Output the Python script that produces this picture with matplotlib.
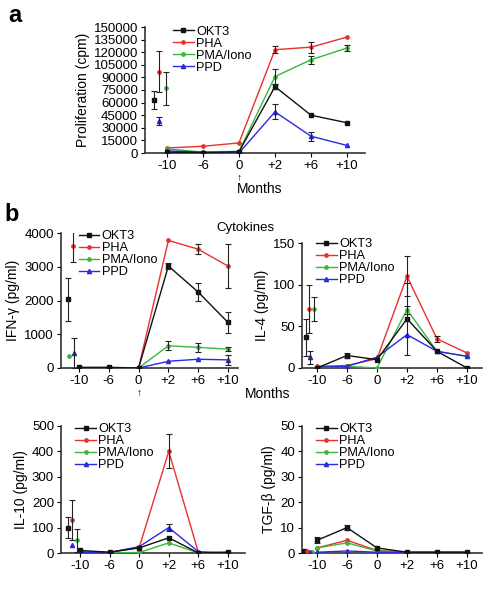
import numpy as np
import matplotlib
matplotlib.use("Agg")
import matplotlib.pyplot as plt

plt.rcParams['font.family'] = ['Liberation Sans', 'DejaVu Sans']

W, H = 493, 595
months = ["-10", "-6", "0", "+2", "+6", "+10"]
series = ["OKT3", "PHA", "PMA/Iono", "PPD"]
colors = ["#111111", "#e8312a", "#3cb53c", "#2a2adf"]
markers = ["s", "o", "o", "^"]
msizes = [3.2, 2.4, 2.4, 3.0]

# ---- Proliferation (cpm) ----
prolif_base = [63000, 97000, 77000, 38000]
prolif_base_err = [10500, 24000, 20000, 4500]
prolif_OKT3 = [1000, 500, 1500, 79000, 45000, 36000]
prolif_PHA = [6000, 8000, 12000, 123000, 126000, 138000]
prolif_PMA = [5000, 1000, 2000, 91000, 111000, 125000]
prolif_PPD = [2500, 1000, 0, 49000, 20000, 9000]
prolif_OKT3_err = [0, 0, 0, 3000, 0, 0]
prolif_PHA_err = [0, 0, 0, 4000, 6500, 0]
prolif_PMA_err = [0, 0, 0, 8500, 5000, 4000]
prolif_PPD_err = [0, 0, 0, 9000, 5500, 0]

# ---- IFN-gamma (pg/ml) ----
ifn_base = [2030, 3620, 350, 450]
ifn_base_err = [650, 480, 0, 450]
ifn_OKT3 = [20, 20, 0, 3020, 2250, 1350]
ifn_PHA = [0, 0, 0, 3780, 3520, 3020]
ifn_PMA = [0, 0, 0, 660, 610, 560]
ifn_PPD = [0, 0, 0, 200, 260, 240]
ifn_OKT3_err = [0, 0, 0, 100, 270, 300]
ifn_PHA_err = [0, 0, 0, 0, 140, 650]
ifn_PMA_err = [0, 0, 0, 140, 130, 50]
ifn_PPD_err = [0, 0, 0, 0, 0, 140]

# ---- IL-4 (pg/ml) ----
il4_base = [37, 71, 71, 13]
il4_base_err = [22, 29, 14, 8]
il4_OKT3 = [0, 15, 10, 59, 20, 0]
il4_PHA = [2, 3, 11, 110, 35, 18]
il4_PMA = [1, 2, 0, 70, 20, 14]
il4_PPD = [1, 2, 13, 40, 20, 14]
il4_OKT3_err = [0, 3, 0, 43, 0, 0]
il4_PHA_err = [0, 0, 0, 24, 4, 0]
il4_PMA_err = [0, 0, 0, 5, 0, 0]
il4_PPD_err = [0, 0, 0, 0, 0, 0]

# ---- IL-10 (pg/ml) ----
il10_base = [100, 130, 50, 30]
il10_base_err = [40, 80, 45, 0]
il10_OKT3 = [10, 3, 20, 60, 0, 3]
il10_PHA = [5, 3, 22, 400, 2, 3]
il10_PMA = [2, 1, 2, 40, 0, 0]
il10_PPD = [1, 2, 25, 100, 5, 0]
il10_OKT3_err = [0, 0, 0, 0, 0, 0]
il10_PHA_err = [0, 0, 0, 67, 0, 0]
il10_PMA_err = [0, 0, 0, 0, 0, 0]
il10_PPD_err = [0, 0, 0, 13, 0, 0]

# ---- TGF-beta (pg/ml) ----
tgf_base = [0.8, 0.8, 0.5, 0.3]
tgf_base_err = [0, 0, 0, 0]
tgf_OKT3 = [5, 10, 2, 0.3, 0.3, 0.3]
tgf_PHA = [2, 5, 1, 0.3, 0.3, 0.3]
tgf_PMA = [2, 4, 0.8, 0.3, 0.3, 0.3]
tgf_PPD = [0.3, 0.8, 0.3, 0.2, 0.2, 0.2]
tgf_OKT3_err = [1.2, 1.0, 0, 0, 0, 0]
tgf_PHA_err = [0, 0, 0, 0, 0, 0]
tgf_PMA_err = [0, 0, 0, 0, 0, 0]
tgf_PPD_err = [0, 0, 0, 0, 0, 0]

fig = plt.figure(figsize=(W / 100, H / 100), dpi=100)

FS = 9.5
LFS = 9.2


def make_axes(left_px, right_px, top_px, bottom_px, first_tick_px, last_tick_px):
    ax = fig.add_axes([left_px / W, 1 - bottom_px / H,
                       (right_px - left_px) / W, (bottom_px - top_px) / H])
    step = (last_tick_px - first_tick_px) / 5.0
    ax.set_xlim((left_px - first_tick_px) / step,
                5 + (right_px - last_tick_px) / step)
    return ax


def draw(ax, base, base_err, offsets, lines, errs, ymax, yticks, ylabel, leg_anchor):
    x = np.arange(len(months))
    for i in range(4):
        c, m, ms = colors[i], markers[i], msizes[i]
        ax.plot(x, lines[i], color=c, lw=1.0, marker=m, ms=ms,
                label=series[i], zorder=3 + (i == 0))
        e = np.array(errs[i], dtype=float)
        mask = e > 0
        if mask.any():
            ax.errorbar(x[mask], np.array(lines[i])[mask], yerr=e[mask],
                        fmt="none", ecolor="#222222", elinewidth=0.8,
                        capsize=2, capthick=0.8, zorder=5)
        ax.plot([offsets[i]], [base[i]], color=c, marker=m, ms=ms,
                ls="none", zorder=4)
        if base_err[i] > 0:
            ax.errorbar([offsets[i]], [base[i]], yerr=[base_err[i]],
                        fmt="none", ecolor="#222222", elinewidth=0.8,
                        capsize=2, capthick=0.8, zorder=5)
    ax.set_ylim(0, ymax)
    ax.set_yticks(yticks)
    ax.set_xticks(x)
    ax.set_xticklabels(months)
    ax.tick_params(labelsize=FS, length=3, width=0.8, pad=2)
    ax.set_ylabel(ylabel, fontsize=FS + 0.5, labelpad=3)
    for s in ["top", "right"]:
        ax.spines[s].set_visible(False)
    for s in ["left", "bottom"]:
        ax.spines[s].set_linewidth(1.2)
        ax.spines[s].set_color("#333333")
    ax.legend(loc="upper left", bbox_to_anchor=leg_anchor, frameon=False,
              fontsize=LFS, handlelength=1.6, handletextpad=0.2,
              labelspacing=0.0, borderaxespad=0.0)
    return ax


# Panel a
axa = make_axes(145, 365, 27, 153, 167, 347)
draw(axa, prolif_base, prolif_base_err, [-0.36, -0.22, -0.03, -0.22],
     [prolif_OKT3, prolif_PHA, prolif_PMA, prolif_PPD],
     [prolif_OKT3_err, prolif_PHA_err, prolif_PMA_err, prolif_PPD_err],
     150000, np.arange(0, 150001, 15000), "Proliferation (cpm)", (0.105, 1.05))

# IFN-gamma
axi = make_axes(61, 238, 233, 368, 79, 228)
draw(axi, ifn_base, ifn_base_err, [-0.37, -0.2, -0.34, -0.17],
     [ifn_OKT3, ifn_PHA, ifn_PMA, ifn_PPD],
     [ifn_OKT3_err, ifn_PHA_err, ifn_PMA_err, ifn_PPD_err],
     4000, np.arange(0, 4001, 1000), "IFN-\u03b3 (pg/ml)", (0.07, 1.06))

# IL-4
ax4 = make_axes(302, 482, 243, 368, 317, 467)
draw(ax4, il4_base, il4_base_err, [-0.37, -0.27, -0.1, -0.23],
     [il4_OKT3, il4_PHA, il4_PMA, il4_PPD],
     [il4_OKT3_err, il4_PHA_err, il4_PMA_err, il4_PPD_err],
     150, [0, 50, 100, 150], "IL-4 (pg/ml)", (0.05, 1.08))

# IL-10
ax10 = make_axes(61, 245, 426, 553, 80, 228)
draw(ax10, il10_base, il10_base_err, [-0.4, -0.27, -0.1, -0.27],
     [il10_OKT3, il10_PHA, il10_PMA, il10_PPD],
     [il10_OKT3_err, il10_PHA_err, il10_PMA_err, il10_PPD_err],
     500, np.arange(0, 501, 100), "IL-10 (pg/ml)", (0.05, 1.06))

# TGF-beta
axt = make_axes(302, 482, 426, 553, 317, 467)
draw(axt, tgf_base, tgf_base_err, [-0.43, -0.33, -0.17, -0.23],
     [tgf_OKT3, tgf_PHA, tgf_PMA, tgf_PPD],
     [tgf_OKT3_err, tgf_PHA_err, tgf_PMA_err, tgf_PPD_err],
     50, np.arange(0, 51, 10), "TGF-\u03b2 (pg/ml)", (0.05, 1.06))

# Annotations
fig.text(8 / W, 1 - 16 / H, "a", fontsize=17, fontweight="bold", va="center", ha="left")
fig.text(4 / W, 1 - 214 / H, "b", fontsize=17, fontweight="bold", va="center", ha="left")
fig.text(239 / W, 1 - 178 / H, "\u2191", fontsize=7.5, ha="center", va="center")
fig.text(260 / W, 1 - 189 / H, "Months", fontsize=FS + 0.5, ha="center", va="center")
fig.text(245 / W, 1 - 228 / H, "Cytokines", fontsize=FS, ha="center", va="center")
fig.text(139 / W, 1 - 393 / H, "\u2191", fontsize=7.5, ha="center", va="center")
fig.text(268 / W, 1 - 394 / H, "Months", fontsize=FS + 0.5, ha="center", va="center")

fig.savefig("out.png", dpi=100)
